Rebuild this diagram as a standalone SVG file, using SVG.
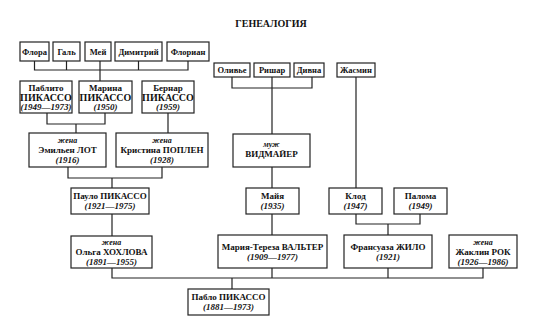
<svg xmlns="http://www.w3.org/2000/svg" width="559" height="325" viewBox="0 0 559 325">
<style>
rect{fill:#fff;stroke:#222;stroke-width:1.2}
text{font-family:"Liberation Serif","Times New Roman",serif;fill:#111;text-anchor:middle}
.n{font-size:9px;font-weight:bold}
.s{font-size:8.5px;font-weight:bold}
.p{font-size:10px;font-weight:bold}
.y{font-size:9px;font-style:italic;font-weight:bold}
.w{font-size:8px;font-style:italic;font-weight:bold}
.t{font-size:10px;font-weight:bold}
#connectors path{fill:none;stroke:#222;stroke-width:1.2}
</style>
<rect x="0" y="0" width="559" height="325" style="fill:#fff;stroke:none"/>
<text class="t" x="271" y="27">ГЕНЕАЛОГИЯ</text>
<g id="connectors">
<path d="M34.5 61V70H188V61M66.5 61V70M138.5 61V70M100 61V81"/>
<path d="M47 113V124H105V113M76 124V133M168 113V133"/>
<path d="M68 167V178H162V167M112 178V188M112 214V236"/>
<path d="M112 268V278H483V268M232 278V289M272 268V278M388 268V278"/>
<path d="M232 77V88H312V77M272 77V134M272 167V188M272 214V235"/>
<path d="M356 77V188M356 214V224H420V214M388 224V235"/>
</g>
<g id="flora"><rect x="20" y="42" width="29" height="19"/><text class="s" x="34.5" y="54.5">Флора</text></g>
<g id="gal"><rect x="53" y="42" width="27" height="19"/><text class="s" x="66.5" y="54.5">Галь</text></g>
<g id="mei"><rect x="85" y="42" width="26" height="19"/><text class="s" x="98" y="54.5">Мей</text></g>
<g id="dimitri"><rect x="115" y="42" width="47" height="19"/><text class="s" x="138.5" y="54.5">Димитрий</text></g>
<g id="florian"><rect x="167" y="42" width="42" height="19"/><text class="s" x="188" y="54.5">Флориан</text></g>
<g id="pablito"><rect x="20" y="81" width="52" height="32"/><text class="n" x="46" y="91">Паблито</text><text class="p" x="46" y="101">ПИКАССО</text><text class="y" x="46" y="110">(1949—1973)</text></g>
<g id="marina"><rect x="79" y="81" width="53" height="32"/><text class="n" x="105.5" y="91">Марина</text><text class="p" x="105.5" y="101">ПИКАССО</text><text class="y" x="105.5" y="110">(1950)</text></g>
<g id="bernar"><rect x="142" y="81" width="52" height="32"/><text class="n" x="168" y="91">Бернар</text><text class="p" x="168" y="101">ПИКАССО</text><text class="y" x="168" y="110">(1959)</text></g>
<g id="emilien"><rect x="29" y="133" width="77" height="34"/><text class="w" x="67.5" y="143">жена</text><text class="n" x="67.5" y="153">Эмильен ЛОТ</text><text class="y" x="67.5" y="163">(1916)</text></g>
<g id="kristina"><rect x="116" y="133" width="92" height="34"/><text class="w" x="162" y="143">жена</text><text class="n" x="162" y="153">Кристина ПОПЛЕН</text><text class="y" x="162" y="163">(1928)</text></g>
<g id="paulo"><rect x="71" y="188" width="78" height="26"/><text class="n" x="110" y="199">Пауло ПИКАССО</text><text class="y" x="110" y="209">(1921—1975)</text></g>
<g id="olga"><rect x="71" y="236" width="81" height="32"/><text class="w" x="111.5" y="245">жена</text><text class="n" x="111.5" y="255">Ольга ХОХЛОВА</text><text class="y" x="111.5" y="265">(1891—1955)</text></g>
<g id="pablo"><rect x="188" y="289" width="81" height="26"/><text class="n" x="228.5" y="300">Пабло ПИКАССО</text><text class="y" x="228.5" y="310">(1881—1973)</text></g>
<g id="olive"><rect x="214" y="63" width="36" height="14"/><text class="s" x="232" y="73">Оливье</text></g>
<g id="richard"><rect x="254" y="63" width="36" height="14"/><text class="s" x="272" y="73">Ришар</text></g>
<g id="diana"><rect x="294" y="63" width="30" height="14"/><text class="s" x="309" y="73">Дивна</text></g>
<g id="jasmin"><rect x="337" y="63" width="38" height="14"/><text class="s" x="356" y="73">Жасмин</text></g>
<g id="widmaier"><rect x="233" y="134" width="77" height="33"/><text class="w" x="271.5" y="147">муж</text><text class="n" x="271.5" y="157">ВИДМАЙЕР</text></g>
<g id="maya"><rect x="246" y="188" width="53" height="26"/><text class="n" x="272.5" y="199">Майя</text><text class="y" x="272.5" y="209">(1935)</text></g>
<g id="claude"><rect x="329" y="188" width="53" height="26"/><text class="n" x="355.5" y="199">Клод</text><text class="y" x="355.5" y="209">(1947)</text></g>
<g id="paloma"><rect x="394" y="188" width="53" height="26"/><text class="n" x="420.5" y="199">Палома</text><text class="y" x="420.5" y="209">(1949)</text></g>
<g id="marie"><rect x="218" y="235" width="109" height="33"/><text class="n" x="272.5" y="250">Мария-Тереза ВАЛЬТЕР</text><text class="y" x="272.5" y="260">(1909—1977)</text></g>
<g id="francoise"><rect x="344" y="235" width="88" height="33"/><text class="n" x="388" y="250">Франсуаза ЖИЛО</text><text class="y" x="388" y="260">(1921)</text></g>
<g id="jacqueline"><rect x="449" y="235" width="68" height="33"/><text class="w" x="483" y="245">жена</text><text class="n" x="483" y="255">Жаклин РОК</text><text class="y" x="483" y="265">(1926—1986)</text></g>
</svg>
